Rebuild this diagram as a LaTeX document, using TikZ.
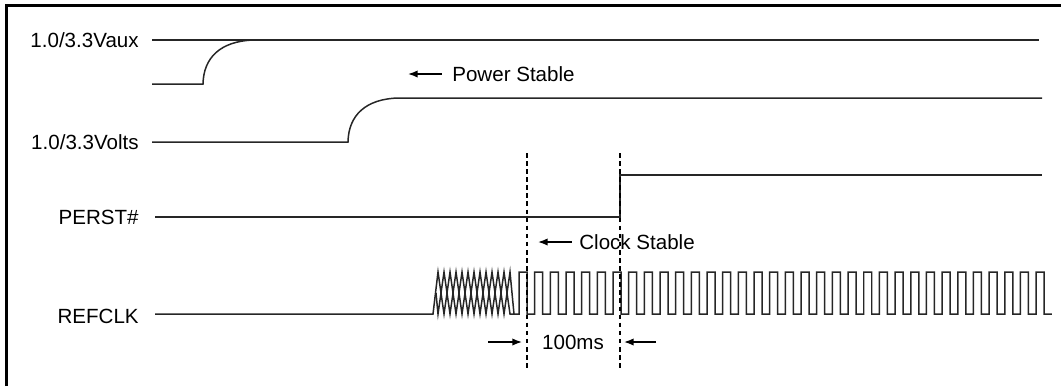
\documentclass[tikz,border=0pt]{standalone}
\usepackage{fontspec}
\setmainfont{Liberation Sans}
\usetikzlibrary{arrows.meta}
\tikzset{every node/.style={align=center, inner sep=0pt, font=\fontsize{11.7}{14}\selectfont}}
\tikzset{
	signal/.style={line width=0.85pt, draw=black!85, line join=miter},
	marker/.style={line width=0.7pt, dash pattern=on 2.6pt off 2pt},
	arr/.style={line width=0.9pt, -{Latex[length=5.5pt, width=4.2pt]}},
	sig/.style={anchor=east}
}

\begin{document}
\begin{tikzpicture}[x=0.02cm, y=-0.02cm]
		\useasboundingbox (0,0) rectangle (1061,386);
		% Frame
		\draw[line width=1.7pt] (6.5,386) -- (6.5,5.5) -- (1061,5.5);
		
		% Signal names
		\node[sig] (vaux) at (139,40) {1.0/3.3Vaux};
		\node[sig] (volts) at (139,142) {1.0/3.3Volts};
		\node[sig] (perst) at (139,217) {PERST\#};
		\node[sig] (refclk) at (139,316) {REFCLK};
		
		%% Aux power
		\draw[signal] (152,40) -- (1039,40);
		\draw[signal] (152,84) -- (203,84) .. controls (203.5,58) and (220,41) .. (254,40);
		%% Main power
		\draw[signal] (152,142) -- (348,142) .. controls (348.5,115) and (366,99) .. (398,98) -- (1042,98);
		%% Reset
		\draw[signal] (155,217) -- (620,217) -- (620,175) -- (1042,175);
		%% Clock, ramp up
		\draw[signal] (155,314) -- (433,314)
			\foreach \i in {0,...,12} {-- ({438+6*\i},{293-21*cos(180*\i)})} -- (514,314) -- (519,314)
			\foreach \k in {0,...,33} {-- ({519+15.67*\k},272) -- ({527+15.67*\k},272) -- ({527+15.67*\k},314) -- ({534.67+15.67*\k},314)};
		\draw[signal] (436,293)
			\foreach \i in {0,...,12} {-- ({438+6*\i},{293+21*cos(180*\i)})} -- (514,314);
		
		% Time markers
		\coordinate (clk top) at (527,153);
		\coordinate (clk bot) at (527,368);
		\coordinate (rst top) at (620,153);
		\coordinate (rst bot) at (620,368);
		\draw[marker] (clk top) -- (clk bot);
		\draw[marker] (rst top) -- (rst bot);
		
		% Notes
		\node[anchor=west] (pwr) at (452,74) {Power Stable};
		\coordinate (pwr tip) at (408,74);
		\draw[arr, shorten <=5.7pt] (pwr.west) -- (pwr tip);
		\node[anchor=west] (clk) at (579,242) {Clock Stable};
		\coordinate (clk tip) at (538,242);
		\draw[arr, shorten <=4pt] (clk.west) -- (clk tip);
		\node (delay) at (573,342) {100ms};
		\coordinate (delay l) at (488,342);
		\coordinate (delay r) at (656,342);
		\draw[arr] (delay l) -- (522,342);
		\draw[arr] (delay r) -- (624,342);
	\end{tikzpicture}
\end{document}
